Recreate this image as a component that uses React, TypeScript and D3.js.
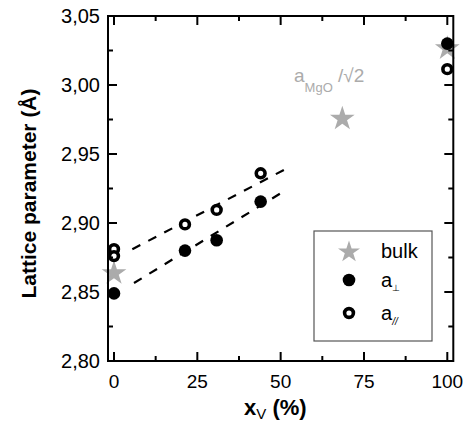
import React from "react";
import * as d3 from "d3";

const W = 471;
const H = 423;

const xTicks = [0, 25, 50, 75, 100];
const xMinor = [12.5, 37.5, 62.5, 87.5];
const yTicks = [2.8, 2.85, 2.9, 2.95, 3.0, 3.05];
const yMinor = [2.825, 2.875, 2.925, 2.975, 3.025];

const perpX = [0, 21.3, 30.8, 44, 100];
const perpY = [2.849, 2.88, 2.8875, 2.9155, 3.03];

const parX = [0, 0, 21.3, 30.8, 44, 100];
const parY = [2.881, 2.876, 2.899, 2.9095, 2.936, 3.0115];

const bulkX = [0, 68.5, 100];
const bulkY = [2.865, 2.977, 3.028];

const fitUpperX = [5.5, 51];
const fitUpperY = [2.881, 2.9385];
const fitLowerX = [6, 51];
const fitLowerY = [2.8565, 2.923];

const FONT = "'Liberation Sans', Arial, Helvetica, sans-serif";
const GREY = "#ababab";

export default function App() {
  const x = d3.scaleLinear().domain([-1.8, 101.8]).range([108, 453.3]);
  const y = d3.scaleLinear().domain([2.8, 3.05]).range([361, 16]);
  const [x0, x1] = x.range();
  const [y0, y1] = y.range();
  const fmt = (v: number) => d3.format(".2f")(v).replace(".", ",");
  const star = d3.symbol(d3.symbolStar, 190)()!;
  const starLeg = d3.symbol(d3.symbolStar, 150)()!;
  const major = 9;
  const minor = 5;
  const seg = (xs: number[], ys: number[]) =>
    `M${x(xs[0])},${y(ys[0])}L${x(xs[1])},${y(ys[1])}`;

  return (
    <svg
      width={W}
      height={H}
      style={{ position: "absolute", left: 0, top: 0, background: "#fff" }}
      fontFamily={FONT}
    >
      <rect width={W} height={H} fill="#fff" />
      {/* fit lines */}
      <path d={seg(fitUpperX, fitUpperY)} stroke="#000" strokeWidth={2.2} strokeDasharray="9,9" fill="none" />
      <path d={seg(fitLowerX, fitLowerY)} stroke="#000" strokeWidth={2.2} strokeDasharray="9,9" fill="none" />

      {/* bulk stars */}
      {bulkX.map((v, i) => (
        <path key={"s" + i} d={star} transform={`translate(${x(v)},${y(bulkY[i]) + 2})`} fill={GREY} />
      ))}
      {/* open circles */}
      {parX.map((v, i) => (
        <circle key={"o" + i} cx={x(v)} cy={y(parY[i])} r={4.4} fill="#fff" stroke="#000" strokeWidth={3.6} />
      ))}
      {/* filled circles */}
      {perpX.map((v, i) => (
        <circle key={"f" + i} cx={x(v)} cy={y(perpY[i])} r={6.3} fill="#000" />
      ))}

      {/* frame */}
      <rect x={x0} y={y1} width={x1 - x0} height={y0 - y1} fill="none" stroke="#000" strokeWidth={2} />
      {/* x ticks */}
      {xTicks.map((t) => (
        <g key={"xt" + t}>
          <line x1={x(t)} x2={x(t)} y1={y0} y2={y0 - major} stroke="#000" strokeWidth={2} />
          <line x1={x(t)} x2={x(t)} y1={y1} y2={y1 + major} stroke="#000" strokeWidth={2} />
          <text x={x(t)} y={388} textAnchor="middle" fontSize={19} fill="#000">
            {t}
          </text>
        </g>
      ))}
      {xMinor.map((t) => (
        <g key={"xm" + t}>
          <line x1={x(t)} x2={x(t)} y1={y0} y2={y0 - minor} stroke="#000" strokeWidth={2} />
          <line x1={x(t)} x2={x(t)} y1={y1} y2={y1 + minor} stroke="#000" strokeWidth={2} />
        </g>
      ))}
      {/* y ticks */}
      {yTicks.map((t) => (
        <g key={"yt" + t}>
          <line x1={x0} x2={x0 + major} y1={y(t)} y2={y(t)} stroke="#000" strokeWidth={2} />
          <line x1={x1} x2={x1 - major} y1={y(t)} y2={y(t)} stroke="#000" strokeWidth={2} />
          <text x={100} y={y(t) + 7} textAnchor="end" fontSize={20} fill="#000">
            {fmt(t)}
          </text>
        </g>
      ))}
      {yMinor.map((t) => (
        <g key={"ym" + t}>
          <line x1={x0} x2={x0 + minor} y1={y(t)} y2={y(t)} stroke="#000" strokeWidth={2} />
          <line x1={x1} x2={x1 - minor} y1={y(t)} y2={y(t)} stroke="#000" strokeWidth={2} />
        </g>
      ))}

      {/* axis titles */}
      <text
        transform="translate(36,193.5) rotate(-90)"
        textAnchor="middle"
        fontSize={21}
        fontWeight="bold"
        fill="#000"
      >
        Lattice parameter (Å)
      </text>
      <text x={244} y={415} fontSize={22} fontWeight="bold" fill="#000">
        x
        <tspan fontSize={15} fontWeight="normal" dy={4}>V</tspan>
        <tspan dy={-4}> (%)</tspan>
      </text>

      {/* annotation */}
      <text x={294} y={82} fontSize={19} fill={GREY}>
        a<tspan fontSize={13} dy={10}>MgO</tspan>
        <tspan dy={-10}> /√2</tspan>
      </text>

      {/* legend */}
      <rect x={314} y={231} width={118} height={110} fill="#fff" stroke="#555" strokeWidth={1.2} />
      <path d={starLeg} transform={`translate(349,252)`} fill={GREY} />
      <text x={381} y={258} fontSize={20} fill="#000">bulk</text>
      <circle cx={349} cy={280} r={6.3} fill="#000" />
      <text x={381} y={287} fontSize={20} fill="#000">
        a<tspan fontSize={9} dy={4}>⊥</tspan>
      </text>
      <circle cx={349} cy={313} r={4.4} fill="#fff" stroke="#000" strokeWidth={3.6} />
      <text x={381} y={320} fontSize={20} fill="#000">
        a<tspan fontSize={10} dy={5} fontStyle="italic">//</tspan>
      </text>
    </svg>
  );
}
